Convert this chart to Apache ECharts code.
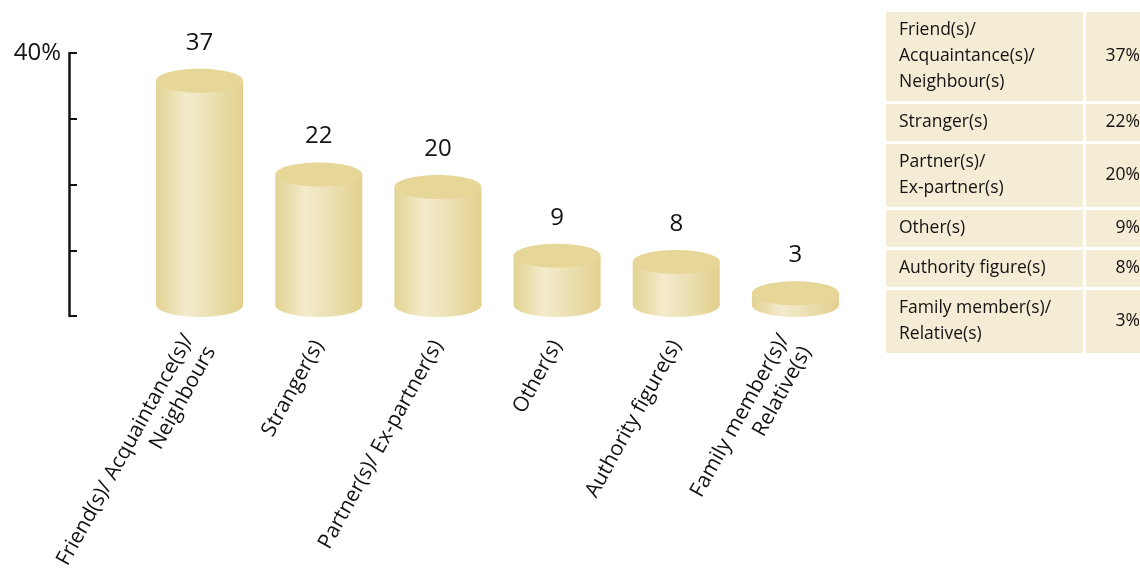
<!DOCTYPE html>
<html>
<head>
<meta charset="utf-8">
<script src="https://cdn.jsdelivr.net/npm/echarts@6/dist/echarts.min.js"></script>
<style>
  html, body { margin: 0; padding: 0; background: #fff; }
  #chart { width: 1140px; height: 585px; }
</style>
</head>
<body>
<div id="chart"></div>
<script>
// data
const categories = [
  'Friend(s)/ Acquaintance(s)/\nNeighbours',
  'Stranger(s)',
  'Partner(s)/ Ex-partner(s)',
  'Other(s)',
  'Authority figure(s)',
  'Family member(s)/\nRelative(s)'
];
const values = [37, 22, 20, 9, 8, 3];
const tableLabels = [
  'Friend(s)/\nAcquaintance(s)/\nNeighbour(s)',
  'Stranger(s)',
  'Partner(s)/\nEx-partner(s)',
  'Other(s)',
  'Authority figure(s)',
  'Family member(s)/\nRelative(s)'
];
const axisMax = 40;
const axisStep = 10;

const FONT = '"Open Sans", sans-serif';
const INK = '#141213';

let chart = echarts.init(document.getElementById('chart'));

function cylinder(params, api) {
  let top = api.coord([api.value(0), api.value(1)]);
  let base = api.coord([api.value(0), 0]);
  let w = api.size([1, 0])[0] * 0.73;
  let rx = w / 2, ry = 12;
  let bottomY = base[1] - 7;
  let body = new echarts.graphic.LinearGradient(0, 0, 1, 0, [
    { offset: 0, color: '#E3D394' },
    { offset: 0.15, color: '#E9DDAA' },
    { offset: 0.35, color: '#F4EBCD' },
    { offset: 0.55, color: '#EEE3BB' },
    { offset: 0.8, color: '#E7D9A0' },
    { offset: 1, color: '#E2D08E' }
  ]);
  return {
    type: 'group',
    children: [
      { type: 'ellipse', shape: { cx: top[0], cy: bottomY, rx: rx, ry: ry }, style: { fill: body } },
      { type: 'rect', shape: { x: top[0] - rx, y: top[1], width: w, height: bottomY - top[1] }, style: { fill: body } },
      { type: 'ellipse', shape: { cx: top[0], cy: top[1], rx: rx, ry: ry }, style: { fill: '#E6D799' } },
      {
        type: 'text',
        style: {
          text: String(api.value(1)),
          x: top[0], y: top[1] - 38,
          align: 'center', verticalAlign: 'middle',
          fontSize: 24, fontFamily: FONT, fill: INK
        }
      }
    ]
  };
}

// side table, built from the same arrays
function buildTable() {
  let items = [];
  let y = 12;
  tableLabels.forEach(function(label, i) {
    let lines = label.split('\n').length;
    let h = 11 + 26 * lines;
    items.push({ type: 'rect', shape: { x: 886, y: y, width: 197, height: h }, style: { fill: '#F4ECD4' } });
    items.push({ type: 'rect', shape: { x: 1086, y: y, width: 60, height: h }, style: { fill: '#F4ECD4' } });
    items.push({
      type: 'text',
      style: {
        text: label, x: 899, y: y + h / 2,
        verticalAlign: 'middle', lineHeight: 26,
        fontSize: 17.5, fontFamily: FONT, fill: INK
      }
    });
    items.push({
      type: 'text',
      style: {
        text: values[i] + '%', x: 1140, y: y + h / 2,
        align: 'right', verticalAlign: 'middle',
        fontSize: 17.5, fontFamily: FONT, fill: INK
      }
    });
    y += h + 3;
  });
  return items;
}

let option = {
  animation: false,
  grid: [
    { left: 69, top: 53, height: 263, width: 20 },
    { left: 140, right: 285, top: 62, bottom: 273 }
  ],
  xAxis: [
    { gridIndex: 0, type: 'value', show: false },
    {
      gridIndex: 1,
      type: 'category',
      data: categories,
      axisLine: { show: false },
      axisTick: { show: false },
      axisLabel: {
        interval: 0,
        rotate: 61,
        margin: 30,
        fontSize: 21,
        fontFamily: FONT,
        color: INK,
        lineHeight: 25
      }
    }
  ],
  yAxis: [
    {
      gridIndex: 0,
      type: 'value',
      min: 0,
      max: axisMax,
      interval: axisStep,
      axisLine: { show: true, lineStyle: { color: INK, width: 2.5 } },
      axisTick: { show: true, inside: true, length: 8, lineStyle: { color: INK, width: 2 } },
      splitLine: { show: false },
      axisLabel: {
        margin: 8,
        fontSize: 24,
        fontFamily: FONT,
        color: INK,
        padding: [0, 0, 8, 0],
        formatter: function(v) {
          return v === axisMax ? axisMax + '%' : '';
        }
      }
    },
    { gridIndex: 1, type: 'value', min: 0, max: axisMax, show: false }
  ],
  series: [
    {
      type: 'custom',
      xAxisIndex: 1,
      yAxisIndex: 1,
      clip: false,
      renderItem: cylinder,
      encode: { x: 0, y: 1 },
      data: values.map(function(v, i) { return [i, v]; })
    }
  ],
  graphic: buildTable()
};

chart.setOption(option);
</script>
</body>
</html>
